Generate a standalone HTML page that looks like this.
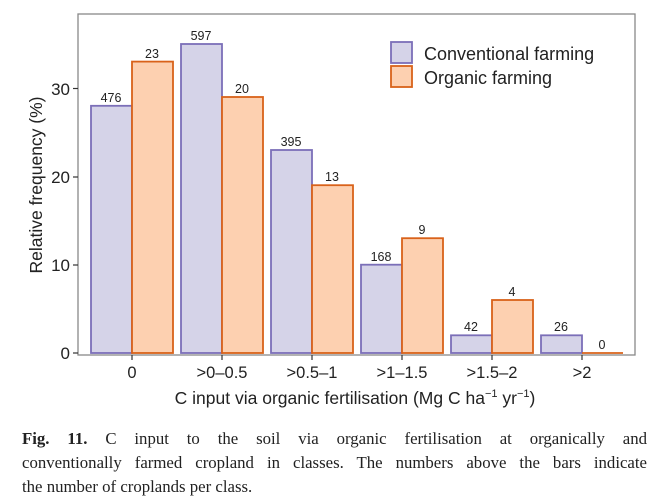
<!DOCTYPE html>
<html><head><meta charset="utf-8"><style>
body{margin:0;background:#fff;width:666px;height:504px;overflow:hidden}
.cap{position:absolute;left:22px;width:625px;font-family:"Liberation Serif",serif;font-size:16.8px;color:#222;white-space:nowrap}
.j{text-align:justify;text-align-last:justify}
</style></head><body>
<svg width="666" height="420" style="position:absolute;left:0;top:0" font-family="Liberation Sans, sans-serif">
<rect x="78" y="14" width="557" height="341" fill="none" stroke="#888" stroke-width="1.3"/>
<g stroke="#333" stroke-width="1.2">
<line x1="73" y1="353" x2="78" y2="353"/><line x1="73" y1="265" x2="78" y2="265"/><line x1="73" y1="177" x2="78" y2="177"/><line x1="73" y1="88.5" x2="78" y2="88.5"/>
<line x1="132" y1="355" x2="132" y2="360"/><line x1="222" y1="355" x2="222" y2="360"/><line x1="312" y1="355" x2="312" y2="360"/><line x1="402" y1="355" x2="402" y2="360"/><line x1="492" y1="355" x2="492" y2="360"/><line x1="582" y1="355" x2="582" y2="360"/>
</g>
<g font-size="17" fill="#222" text-anchor="end">
<text x="70" y="359">0</text><text x="70" y="271">10</text><text x="70" y="183">20</text><text x="70" y="95">30</text>
</g>
<g font-size="16.5" fill="#222" text-anchor="middle">
<text x="132" y="378">0</text><text x="222" y="378">&gt;0–0.5</text><text x="312" y="378">&gt;0.5–1</text><text x="402" y="378">&gt;1–1.5</text><text x="492" y="378">&gt;1.5–2</text><text x="582" y="378">&gt;2</text>
<text x="355" y="404" font-size="17.5">C input via organic fertilisation (Mg C ha<tspan font-size="11" dy="-7">−1</tspan><tspan dy="7"> yr</tspan><tspan font-size="11" dy="-7">−1</tspan><tspan dy="7">)</tspan></text>
</g>
<text transform="translate(42,185) rotate(-90)" font-size="17.5" fill="#222" text-anchor="middle">Relative frequency (%)</text>
<g stroke-width="1.8">
<g fill="#d5d3e8" stroke="#7b6fb8">
<rect x="91" y="105.8" width="41" height="247.2"/>
<rect x="181" y="44" width="41" height="309"/>
<rect x="271" y="150" width="41" height="203"/>
<rect x="361" y="264.7" width="41" height="88.3"/>
<rect x="451" y="335.3" width="41" height="17.7"/>
<rect x="541" y="335.3" width="41" height="17.7"/>
</g>
<g fill="#fdd0b0" stroke="#d9621a">
<rect x="132" y="61.6" width="41" height="291.4"/>
<rect x="222" y="97" width="41" height="256"/>
<rect x="312" y="185.2" width="41" height="167.8"/>
<rect x="402" y="238.2" width="41" height="114.8"/>
<rect x="492" y="300" width="41" height="53"/>
<line x1="582" y1="353" x2="623" y2="353"/>
</g>
</g>
<g font-size="12.5" fill="#222" text-anchor="middle">
<text x="111" y="102">476</text><text x="152" y="58">23</text>
<text x="201" y="40">597</text><text x="242" y="93">20</text>
<text x="291" y="146">395</text><text x="332" y="181">13</text>
<text x="381" y="261">168</text><text x="422" y="234">9</text>
<text x="471" y="331">42</text><text x="512" y="296">4</text>
<text x="561" y="331">26</text><text x="602" y="349">0</text>
</g>
<rect x="391" y="42" width="21" height="21" fill="#d5d3e8" stroke="#7b6fb8" stroke-width="1.8"/>
<rect x="391" y="66" width="21" height="21" fill="#fdd0b0" stroke="#d9621a" stroke-width="1.8"/>
<g font-size="18" fill="#222"><text x="424" y="60">Conventional farming</text><text x="424" y="84">Organic farming</text></g>
</svg>
<div class="cap j" style="top:429px"><b>Fig. 11.</b> C input to the soil via organic fertilisation at organically and</div>
<div class="cap j" style="top:453px">conventionally farmed cropland in classes. The numbers above the bars indicate</div>
<div class="cap" style="top:477px">the number of croplands per class.</div>
</body></html>
